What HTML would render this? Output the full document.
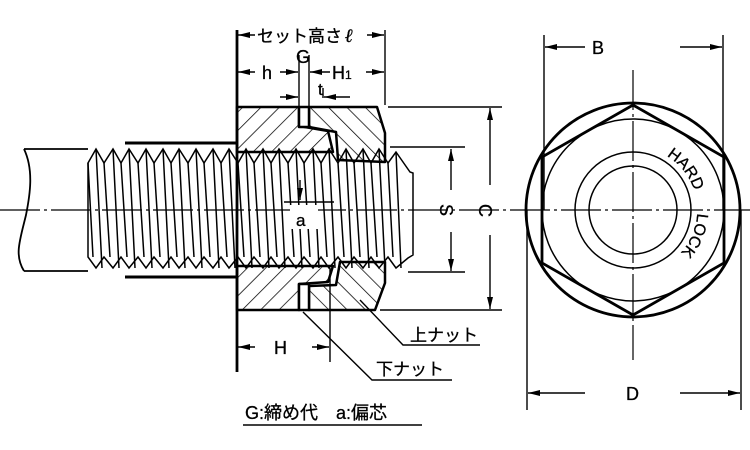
<!DOCTYPE html>
<html><head><meta charset="utf-8"><style>html,body{margin:0;padding:0;background:#fff}svg{display:block}</style></head>
<body>
<svg width="750" height="450" viewBox="0 0 750 450" xmlns="http://www.w3.org/2000/svg" font-family="Liberation Sans, Noto Sans CJK JP, sans-serif">
<defs>
<pattern id="hf" patternUnits="userSpaceOnUse" width="13" height="13" patternTransform="rotate(45)"><line x1="0" y1="0" x2="0" y2="13" stroke="#000" stroke-width="1.5"/></pattern>
<pattern id="hb" patternUnits="userSpaceOnUse" width="13" height="13" patternTransform="rotate(-45)"><line x1="0" y1="0" x2="0" y2="13" stroke="#000" stroke-width="1.5"/></pattern>
<marker id="ar" viewBox="0 0 12 6" refX="12" refY="3" markerWidth="12" markerHeight="6" orient="auto-start-reverse" markerUnits="userSpaceOnUse"><path d="M0,0L12,3L0,6z" fill="#000"/></marker>
<path id="arc" d="M 665 155 A 63 63 0 0 1 665 265"/>
</defs>
<rect width="750" height="450" fill="#fff"/>
<g stroke="#000" fill="none">
<path d="M24,149 L88,149 M24,271 L88,271 M24,149 C34,170 30,195 26,215 C20,240 14,255 24,271" stroke-width="1.8"/>
<line x1="125" y1="143" x2="237" y2="143" stroke-width="3"/>
<line x1="125" y1="277" x2="237" y2="277" stroke-width="3"/>
</g>
<g stroke="#000" fill="none" stroke-width="1.5">
<path d="M88,163 L96,149 L104,163 L113,149 L121,163 L129,149 L138,163 L146,149 L154,163 L163,149 L171,163 L179,149 L188,163 L196,149 L204,163 L213,149 L221,163 L229,149 L238,163 L246,149 L254,163 L263,149 L271,163 L279,149 L288,163 L296,149 L304,163 L313,149 L321,163 L329,149 L338,163 L346,149 L354,163 L363,149 L371,163 L379,149 L388,163 L396,152 L410,172 L413,173 L413,255 L408,258 L396,268 L388,257 L379,268 L371,257 L363,268 L354,257 L346,268 L338,257 L329,268 L321,257 L313,268 L304,257 L296,268 L288,257 L279,268 L271,257 L263,268 L254,257 L246,268 L238,257 L229,268 L221,257 L213,268 L204,257 L196,268 L188,257 L179,268 L171,257 L163,268 L154,257 L146,268 L138,257 L129,268 L121,257 L113,268 L104,257 L96,268 L88,257 Z"/>
<path d="M96,149L102,268 M88,163L93,257 M113,149L119,268 M104,163L110,257 M129,149L135,268 M121,163L127,257 M146,149L152,268 M138,163L144,257 M163,149L169,268 M154,163L160,257 M179,149L185,268 M171,163L177,257 M196,149L202,268 M188,163L194,257 M213,149L219,268 M204,163L210,257 M229,149L235,268 M221,163L227,257 M246,149L252,268 M238,163L244,257 M263,149L269,268 M254,163L260,257 M279,149L285,268 M271,163L277,257 M296,149L302,268 M288,163L294,257 M313,149L319,268 M304,163L310,257 M329,149L335,268 M321,163L327,257 M346,149L352,268 M338,163L344,257 M363,149L369,268 M354,163L360,257 M379,149L385,268 M371,163L377,257 M396,152L401,268 M388,163L393,257"/>
</g>
<g stroke="#000" stroke-width="2.5" stroke-linejoin="round">
<path d="M237,107 L299,107 L299,126 L328,131 L333,152 L237,152 Z" fill="url(#hf)"/>
<path d="M309,107 L377,107 L385,133 L385,162 L338,160 L336,132 L309,127 Z" fill="url(#hb)"/>
<path d="M237,310 L299,310 L299,284 L328,282 L333,266 L237,266 Z" fill="url(#hf)"/>
<path d="M309,310 L375,310 L385,283 L385,262 L340,262 L336,285 L309,286 Z" fill="url(#hb)"/>
<rect x="299" y="284" width="10" height="26" fill="#fff"/>
<rect x="299" y="107" width="10" height="20" fill="#fff"/>
</g>
<g stroke="#000" fill="none">
<line x1="0" y1="210" x2="750" y2="210" stroke-width="1.2" stroke-dasharray="40,4,3,4"/>
<line x1="237" y1="30" x2="237" y2="372" stroke-width="2.8"/>
<line x1="385" y1="30" x2="385" y2="105" stroke-width="1.4"/>
<line x1="299" y1="55" x2="299" y2="107" stroke-width="1.4"/>
<line x1="309" y1="55" x2="309" y2="107" stroke-width="1.4"/>
<g stroke-width="1.4" marker-end="url(#ar)">
<line x1="255" y1="35" x2="238" y2="35"/><line x1="367" y1="35" x2="384" y2="35"/>
<line x1="255" y1="72" x2="238" y2="72"/><line x1="280" y1="72" x2="298" y2="72"/>
<line x1="330" y1="72" x2="310" y2="72"/><line x1="366" y1="72" x2="384" y2="72"/>
<line x1="280" y1="97" x2="298" y2="97"/><line x1="350" y1="97" x2="324" y2="97"/>
<line x1="255" y1="347" x2="238" y2="347"/><line x1="312" y1="347" x2="329" y2="347"/>
<line x1="451" y1="190" x2="451" y2="149"/><line x1="451" y1="232" x2="451" y2="271"/>
<line x1="490" y1="185" x2="490" y2="108"/><line x1="490" y1="235" x2="490" y2="309"/>
<line x1="585" y1="47" x2="545" y2="47"/><line x1="680" y1="47" x2="722" y2="47"/>
<line x1="585" y1="393" x2="528" y2="393"/><line x1="680" y1="393" x2="740" y2="393"/>
<line x1="300" y1="180" x2="300" y2="200"/>
</g>
<line x1="323" y1="88" x2="323" y2="98" stroke-width="1.4"/>
<line x1="330" y1="268" x2="330" y2="362" stroke-width="1.4"/>
<line x1="390" y1="147" x2="465" y2="147" stroke-width="1.4"/>
<line x1="408" y1="272" x2="465" y2="272" stroke-width="1.4"/>
<line x1="388" y1="107" x2="502" y2="107" stroke-width="1.4"/>
<line x1="380" y1="310" x2="502" y2="310" stroke-width="1.4"/>
<line x1="284" y1="202" x2="334" y2="202" stroke-width="1.4"/>
<polyline points="360,300 403,345 480,345" stroke-width="1.4"/>
<polyline points="303,312 372,380 452,380" stroke-width="1.4"/>
<line x1="243" y1="425" x2="422" y2="425" stroke-width="1.5"/>
<line x1="544" y1="35" x2="544" y2="210" stroke-width="1.4"/>
<line x1="723" y1="35" x2="723" y2="210" stroke-width="1.4"/>
<line x1="527" y1="210" x2="527" y2="410" stroke-width="1.4"/>
<line x1="741" y1="210" x2="741" y2="410" stroke-width="1.4"/>
<line x1="633" y1="70" x2="633" y2="360" stroke-width="1.2" stroke-dasharray="40,4,3,4"/>
<circle cx="633" cy="210" r="107" stroke-width="2.8"/>
<polygon points="633,105 724,157 724,263 633,315 542,263 542,157" stroke-width="2.8"/>
<circle cx="633" cy="210" r="91" stroke-width="1.5"/>
<circle cx="633" cy="210" r="58" stroke-width="1.5"/>
<circle cx="633" cy="210" r="44" stroke-width="1.5"/>
</g>
<rect x="290" y="205" width="28" height="24" fill="#fff"/>
<rect x="256" y="25" width="110" height="20" fill="#fff"/>
<g font-size="17" fill="#000" stroke="#000" stroke-width="0.3">
<text x="257" y="42">セット高さ</text>
<text x="345" y="42" font-style="italic" font-weight="bold" font-family="Liberation Serif, serif" font-size="19">ℓ</text>
<text x="296" y="63" font-size="18">G</text>
<text x="262" y="79" font-size="18">h</text>
<text x="332" y="79" font-size="18">H<tspan font-size="12">1</tspan></text>
<text x="318" y="95" font-size="17">t</text>
<text x="296" y="226" font-size="17">a</text>
<text x="274" y="354" font-size="18">H</text>
<text x="410" y="341">上ナット</text>
<text x="376" y="375">下ナット</text>
<text x="245" y="419" font-size="18">G:締め代　a:偏芯</text>
<text x="592" y="54" font-size="18">B</text>
<text x="626" y="400" font-size="18">D</text>
<text x="0" y="0" font-size="18" transform="translate(446,210) rotate(90) translate(-6,6)">S</text>
<text x="0" y="0" font-size="18" transform="translate(485,210) rotate(90) translate(-6,6)">C</text>
<text font-size="16"><textPath href="#arc" startOffset="2">HARD</textPath></text>
<text font-size="16"><textPath href="#arc" startOffset="70">LOCK</textPath></text>
</g>
</svg>
</body></html>
